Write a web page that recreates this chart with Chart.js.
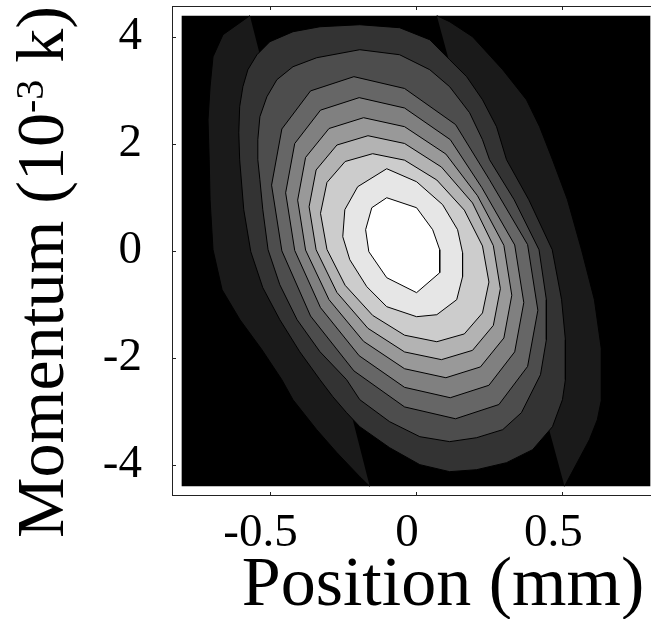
<!DOCTYPE html>
<html>
<head>
<meta charset="UTF-8">
<title>Phase Space Density</title>
<script src="https://cdn.jsdelivr.net/npm/chart.js"></script>
<style>
  html, body { margin: 0; padding: 0; background: #fff; overflow: hidden; }
  canvas { display: block; }
</style>
</head>
<body>
<canvas id="phase-chart" width="680" height="619"></canvas>
<script>
// axis ticks
const xTicks = [-0.5, 0, 0.5];
const yTicks = [-4, -2, 0, 2, 4];

// sampled region (position in mm, momentum in 10^-3 k)
const xRange = [-0.8, 0.8];
const yRange = [-4.4, 4.4];

// visible limits, a little wider than the sampled region
const xView = [-0.833, 0.833];
const yView = [-4.58, 4.58];

// contour polygons, outermost level first: [position, momentum]
const contour1 = [[-0.567, 4.4], [0.071, 4.4], [0.115, 4.286], [0.193, 4.006], [0.296, 3.389], [0.377, 2.828],
  [0.422, 2.323], [0.466, 1.707], [0.517, 0.959], [0.565, 0.024], [0.609, -0.910], [0.633, -1.845],
  [0.633, -2.780], [0.619, -3.153], [0.592, -3.527], [0.507, -4.4], [-0.158, -4.4], [-0.192, -4.219],
  [-0.270, -3.770], [-0.339, -3.340], [-0.420, -2.780], [-0.458, -2.406], [-0.526, -1.845], [-0.601, -1.284],
  [-0.662, -0.723], [-0.693, 0.024], [-0.703, 0.959], [-0.706, 1.707], [-0.710, 2.452], [-0.703, 3.069],
  [-0.693, 3.630], [-0.659, 4.043]];
const contour2 = [[-0.591, 3.071], [-0.574, 3.389], [-0.543, 3.669], [-0.499, 3.912], [-0.420, 4.099],
  [-0.328, 4.192], [-0.192, 4.230], [-0.056, 4.174], [0.047, 3.949], [0.115, 3.575], [0.173, 3.258],
  [0.227, 2.828], [0.275, 2.323], [0.309, 1.707], [0.385, 0.959], [0.465, 0.024], [0.497, -0.910],
  [0.510, -1.658], [0.510, -2.405], [0.500, -2.779], [0.466, -3.284], [0.398, -3.714], [0.309, -3.957],
  [0.207, -4.088], [0.115, -4.125], [0.013, -3.994], [-0.090, -3.677], [-0.192, -3.284], [-0.237, -3.022],
  [-0.284, -2.723], [-0.328, -2.405], [-0.397, -1.882], [-0.465, -1.284], [-0.523, -0.686], [-0.564, -0.013],
  [-0.588, 0.772], [-0.602, 1.707], [-0.605, 2.211], [-0.602, 2.697]];
const contour3 = [[-0.540, 2.080], [-0.533, 2.510], [-0.509, 2.884], [-0.475, 3.202], [-0.420, 3.445],
  [-0.339, 3.613], [-0.192, 3.763], [-0.056, 3.669], [0.047, 3.389], [0.115, 3.071], [0.183, 2.585],
  [0.227, 2.080], [0.251, 1.707], [0.335, 0.959], [0.420, 0.024], [0.445, -0.910], [0.445, -1.658],
  [0.425, -2.312], [0.360, -3.022], [0.296, -3.340], [0.207, -3.490], [0.115, -3.564], [0.013, -3.471],
  [-0.090, -3.191], [-0.192, -2.779], [-0.237, -2.405], [-0.328, -1.882], [-0.406, -1.284], [-0.465, -0.630],
  [-0.505, 0.024], [-0.523, 0.772], [-0.533, 1.333], [-0.540, 1.707]];
const contour4 = [[0.416, -1.108], [0.381, -2.158], [0.283, -2.870], [0.135, -3.136], [-0.039, -2.915],
  [-0.212, -2.241], [-0.360, -1.216], [-0.458, 0.003], [-0.493, 1.231], [-0.458, 2.281], [-0.360, 2.993],
  [-0.212, 3.259], [-0.039, 3.038], [0.135, 2.364], [0.250, 1.340], [0.381, 0.120]];
const contour5 = [[0.368, -0.964], [0.337, -1.885], [0.249, -2.510], [0.117, -2.743], [-0.039, -2.549],
  [-0.194, -1.958], [-0.326, -1.059], [-0.414, 0.010], [-0.445, 1.088], [-0.414, 2.009], [-0.326, 2.633],
  [-0.194, 2.867], [-0.039, 2.673], [0.117, 2.082], [0.225, 1.183], [0.337, 0.113]];
const contour6 = [[0.327, -0.827], [0.300, -1.626], [0.220, -2.167], [0.102, -2.369], [-0.039, -2.201],
  [-0.179, -1.689], [-0.297, -0.910], [-0.377, 0.017], [-0.404, 0.951], [-0.377, 1.749], [-0.297, 2.290],
  [-0.179, 2.492], [-0.039, 2.324], [0.102, 1.812], [0.210, 1.033], [0.300, 0.106]];
const contour7 = [[0.288, -0.704], [0.264, -1.391], [0.193, -1.857], [0.087, -2.031], [-0.039, -1.887],
  [-0.164, -1.446], [-0.270, -0.775], [-0.341, 0.023], [-0.365, 0.827], [-0.341, 1.515], [-0.270, 1.981],
  [-0.164, 2.155], [-0.039, 2.010], [0.087, 1.569], [0.193, 0.898], [0.264, 0.100]];
const contour8 = [[0.249, -0.581], [0.227, -1.158], [0.165, -1.550], [0.071, -1.696], [-0.039, -1.574],
  [-0.148, -1.204], [-0.242, -0.641], [-0.304, 0.029], [-0.326, 0.704], [-0.304, 1.282], [-0.242, 1.673],
  [-0.148, 1.819], [-0.039, 1.698], [0.071, 1.327], [0.165, 0.764], [0.227, 0.094]];
const contour9 = [[-0.100, 1.538], [0.002, 1.295], [0.091, 0.866], [0.142, 0.398], [0.159, -0.032],
  [0.159, -0.480], [0.139, -0.910], [0.071, -1.191], [0.002, -1.228], [-0.100, -1.041], [-0.168, -0.667],
  [-0.226, -0.163], [-0.250, 0.267], [-0.243, 0.772], [-0.199, 1.202]];
const contour10 = [[-0.100, 0.996], [0.002, 0.809], [0.057, 0.398], [0.081, 0.024], [0.081, -0.406],
  [0.002, -0.779], [-0.100, -0.499], [-0.161, -0.013], [-0.172, 0.398], [-0.151, 0.809]];

const contours = [contour1, contour2, contour3, contour4, contour5,
  contour6, contour7, contour8, contour9, contour10];
const shades = ['#1a1a1a', '#333333', '#4d4d4d', '#666666', '#808080',
  '#999999', '#b3b3b3', '#cccccc', '#e6e6e6', '#ffffff'];

const xTitle = 'Position (mm)';
const yTitleParts = ['Momentum (10', '-3', ' k)'];

const serif = "'Liberation Serif', 'Times New Roman', serif";

// closed outline for a polygon
function toPoints(poly) {
  const pts = poly.map(p => ({ x: p[0], y: p[1] }));
  pts.push({ x: poly[0][0], y: poly[0][1] });
  return pts;
}

// no outline where a level is cut by the edge of the sampled region
const hideEdge = ctx =>
  (Math.abs(ctx.p0.parsed.y) >= yRange[1] && Math.abs(ctx.p1.parsed.y) >= yRange[1])
    ? 'rgba(0,0,0,0)' : undefined;

const datasets = [{
  data: toPoints([[xRange[0], yRange[0]], [xRange[1], yRange[0]], [xRange[1], yRange[1]], [xRange[0], yRange[1]]]),
  backgroundColor: '#000',
  borderWidth: 0,
  fill: 'shape',
  order: contours.length + 1
}];
contours.forEach((poly, i) => {
  datasets.push({
    data: toPoints(poly),
    backgroundColor: shades[i],
    borderColor: '#000',
    borderWidth: 1,
    fill: 'shape',
    segment: { borderColor: hideEdge },
    order: contours.length - i
  });
});

// box frame with inward ticks
const framePlugin = {
  id: 'frame',
  afterDraw(chart) {
    const { ctx, chartArea: a, scales: { x, y } } = chart;
    const len = 4;
    ctx.save();
    ctx.strokeStyle = '#222';
    ctx.lineWidth = 1;
    ctx.strokeRect(a.left + 0.5, a.top + 0.5, a.right - a.left - 1, a.bottom - a.top - 1);
    ctx.beginPath();
    xTicks.forEach(v => {
      const px = Math.round(x.getPixelForValue(v)) + 0.5;
      ctx.moveTo(px, a.top); ctx.lineTo(px, a.top + len);
      ctx.moveTo(px, a.bottom); ctx.lineTo(px, a.bottom - len);
    });
    yTicks.forEach(v => {
      const py = Math.round(y.getPixelForValue(v)) + 0.5;
      ctx.moveTo(a.left, py); ctx.lineTo(a.left + len, py);
      ctx.moveTo(a.right, py); ctx.lineTo(a.right - len, py);
    });
    ctx.stroke();
    ctx.restore();
  }
};

// axis titles; the momentum unit carries a superscript exponent
const titlePlugin = {
  id: 'axisTitles',
  afterDraw(chart) {
    const { ctx, chartArea: a } = chart;
    const big = '68px ' + serif;
    const small = '40px ' + serif;
    ctx.save();
    ctx.fillStyle = '#000';
    ctx.textBaseline = 'alphabetic';

    ctx.font = '70px ' + serif;
    ctx.textAlign = 'center';
    ctx.fillText(xTitle, (a.left + a.right) / 2 + 27, a.bottom + 109);

    ctx.textAlign = 'left';
    const widths = yTitleParts.map((t, i) => {
      ctx.font = i === 1 ? small : big;
      return ctx.measureText(t).width;
    });
    const total = widths.reduce((s, w) => s + w, 0);
    ctx.translate(a.left - 109, (a.top + a.bottom) / 2 + 21 + total / 2);
    ctx.rotate(-Math.PI / 2);
    let pos = 0;
    yTitleParts.forEach((t, i) => {
      ctx.font = i === 1 ? small : big;
      ctx.fillText(t, pos, i === 1 ? -20 : 0);
      pos += widths[i];
    });
    ctx.restore();
  }
};

const tickFont = { family: serif, size: 47 };

new Chart(document.getElementById('phase-chart').getContext('2d'), {
  type: 'line',
  data: { datasets },
  options: {
    responsive: false,
    animation: false,
    layout: { autoPadding: false, padding: { top: 6, right: 20, left: 0, bottom: 0 } },
    elements: { point: { radius: 0 }, line: { tension: 0 } },
    plugins: { legend: { display: false }, tooltip: { enabled: false } },
    scales: {
      x: {
        type: 'linear',
        min: xView[0],
        max: xView[1],
        grid: { display: false },
        border: { display: false },
        afterBuildTicks: s => { s.ticks = xTicks.map(v => ({ value: v })); },
        // fixed band below the frame; labels may reach past the plot edges
        afterFit: s => { s.height = 123; s.paddingLeft = 0; s.paddingRight = 0; },
        ticks: {
          font: tickFont, color: '#000', padding: 1, labelOffset: -9,
          maxRotation: 0, autoSkip: false, callback: v => String(v)
        }
      },
      y: {
        type: 'linear',
        min: yView[0],
        max: yView[1],
        grid: { display: false },
        border: { display: false },
        afterBuildTicks: s => { s.ticks = yTicks.map(v => ({ value: v })); },
        afterFit: s => { s.width = 172; s.paddingTop = 0; s.paddingBottom = 0; },
        ticks: {
          font: tickFont, color: '#000', padding: 22,
          autoSkip: false, callback: v => String(v)
        }
      }
    }
  },
  plugins: [framePlugin, titlePlugin]
});
</script>
</body>
</html>
